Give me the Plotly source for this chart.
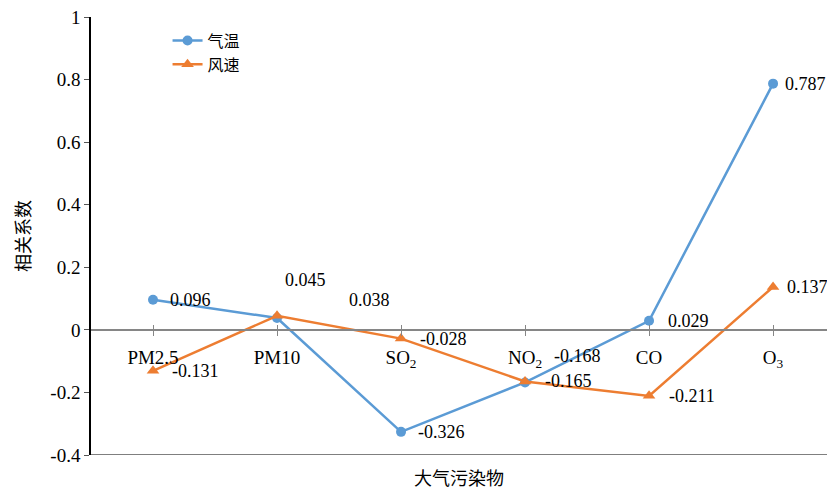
import plotly.graph_objects as go

categories = ["PM2.5", "PM10", "SO2", "NO2", "CO", "O3"]
tick_labels = ["PM2.5", "PM10", "SO<sub>2</sub>", "NO<sub>2</sub>", "CO", "O<sub>3</sub>"]
temp = [0.096, 0.038, -0.326, -0.168, 0.029, 0.787]
wind = [-0.131, 0.045, -0.028, -0.165, -0.211, 0.137]
y_ticks = [-0.4, -0.2, 0, 0.2, 0.4, 0.6, 0.8, 1]
y_tick_text = ["-0.4", "-0.2", "0", "0.2", "0.4", "0.6", "0.8", "1"]

# label offsets (px) for data labels: (xshift, yshift)
temp_off = [(15, 0), (70, 18), (15, 0), (27, 26), (17, 0), (10, 0)]
wind_off = [(17, 0), (6, 36), (17, 0), (18, 0), (18, 0), (12, 0)]

BLUE = "#5B9BD5"
ORANGE = "#ED7D31"
SERIF = "Liberation Serif, Times New Roman, serif"
CJK = "Noto Sans CJK SC"

xs = list(range(len(categories)))

fig = go.Figure()
fig.add_trace(go.Scatter(x=xs, y=temp, mode="lines+markers", name="气温",
                         line=dict(color=BLUE, width=2.5),
                         marker=dict(symbol="circle", size=10, color=BLUE)))
fig.add_trace(go.Scatter(x=xs, y=wind, mode="lines+markers", name="风速",
                         line=dict(color=ORANGE, width=2.5),
                         marker=dict(symbol="triangle-up", size=11, color=ORANGE)))
# invisible trace for the crossing tick axis
fig.add_trace(go.Scatter(x=xs, y=[0]*len(xs), xaxis="x2", mode="markers",
                         marker=dict(opacity=0, size=1), showlegend=False, hoverinfo="skip"))

for vals, offs in ((temp, temp_off), (wind, wind_off)):
    for i, (v, (dx, dy)) in enumerate(zip(vals, offs)):
        fig.add_annotation(x=i, y=v, text=f"{v:.3f}", showarrow=False,
                           xanchor="left", yanchor="middle", xshift=dx, yshift=dy,
                           font=dict(family=SERIF, size=18, color="#000"))

xrange = [-0.5, 5.435]
zero_pos = 0.4 / 1.4
fig.update_layout(
    width=827, height=490,
    margin=dict(l=91, r=0, t=17, b=35),
    plot_bgcolor="white", paper_bgcolor="white",
    font=dict(family=SERIF, size=18, color="#000"),
    xaxis=dict(range=xrange, tickvals=xs, ticktext=tick_labels,
               anchor="free", position=zero_pos, showline=True, linecolor="#868686",
               linewidth=1.5, ticks="outside", ticklen=5, tickcolor="#868686",
               ticklabelstandoff=6, showgrid=False, zeroline=False,
               tickfont=dict(family=SERIF, size=19)),
    xaxis2=dict(range=xrange, tickvals=xs, overlaying="x", anchor="free",
                position=zero_pos, ticks="inside", ticklen=5, tickcolor="#868686",
                showticklabels=False, showline=False, showgrid=False, zeroline=False),
    yaxis=dict(range=[-0.4, 1], tickvals=y_ticks, ticktext=y_tick_text,
               showline=True, linecolor="#000", linewidth=1.5, ticks="outside",
               ticklen=5, tickcolor="#555", showgrid=False, zeroline=False,
               ticklabeloverflow="allow",
               tickfont=dict(family=SERIF, size=19),
               title=dict(text="相关系数", font=dict(family=CJK, size=18), standoff=15)),
    legend=dict(x=0.104, y=0.985, xanchor="left", yanchor="top",
                bgcolor="rgba(0,0,0,0)", font=dict(family=CJK, size=16),
                tracegroupgap=2),
    showlegend=True,
)
fig.add_shape(type="line", xref="paper", yref="y", x0=0, x1=1, y0=-0.4, y1=-0.4,
              line=dict(color="#555", width=1.5))
fig.add_annotation(xref="paper", yref="paper", x=0.5, y=0, yshift=-22, yanchor="middle",
                   text="大气污染物", showarrow=False, font=dict(family=CJK, size=18))

fig.write_html("out.html", config={"displayModeBar": False},
               post_script="document.body.style.margin='0';document.body.style.overflow='hidden';")
